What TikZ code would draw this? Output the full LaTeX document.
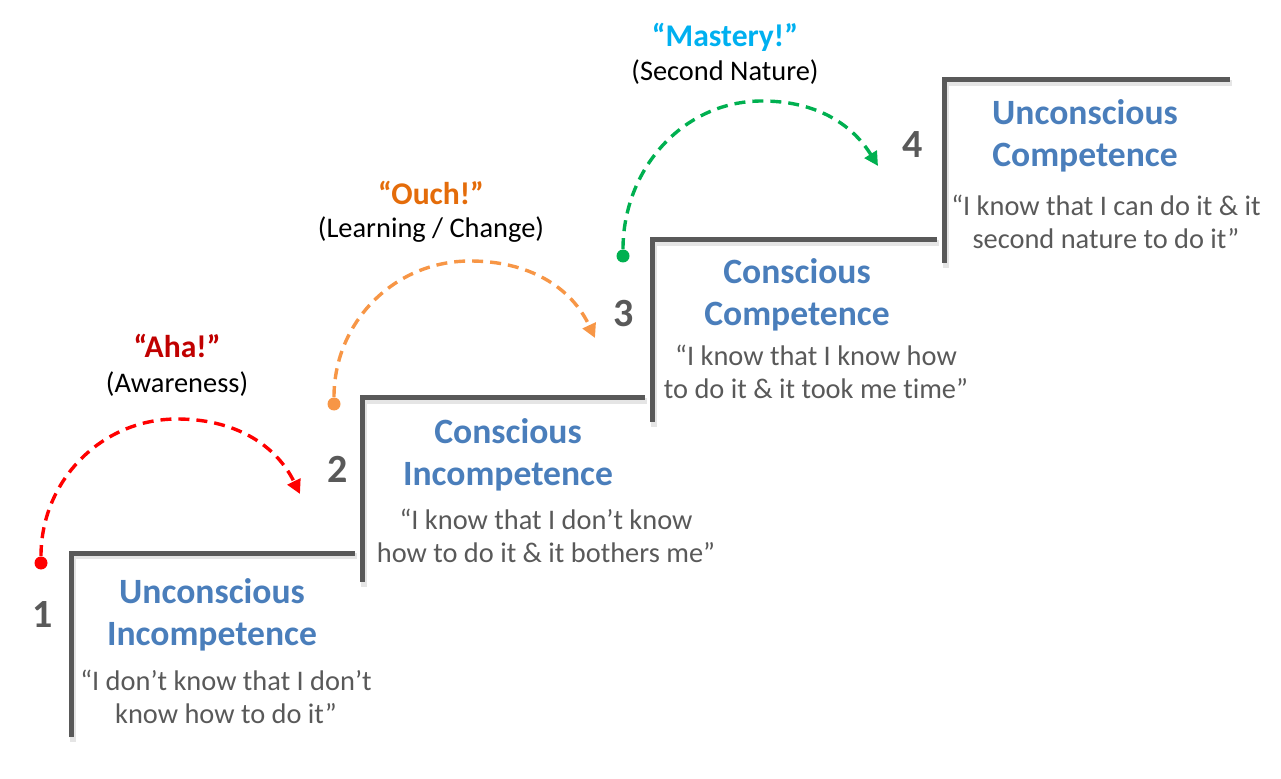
\documentclass[tikz,border=0pt]{standalone}
\usepackage{fontspec}
\setmainfont{Carlito}[Ligatures=NoCommon]
\usepackage{tikz}
\usetikzlibrary{positioning,arrows.meta}
\definecolor{stairgray}{HTML}{595959}
\definecolor{titleblue}{HTML}{4A7EBB}
\definecolor{ahared}{HTML}{C00000}
\definecolor{ouchorange}{HTML}{E46C0A}
\definecolor{masterblue}{HTML}{00B0F0}
\definecolor{leapred}{HTML}{FF0000}
\definecolor{leaporange}{HTML}{F79646}
\definecolor{leapgreen}{HTML}{00B050}

\begin{document}
\begin{tikzpicture}[x=0.5pt, y=0.5pt,
	stair/.style={line width=2.5pt, stairgray, line cap=butt, line join=miter},
	stairshade/.style={line width=3pt, black!10, line join=miter},
	num/.style={font=\bfseries\fontsize{20}{20}\selectfont, text=stairgray, inner sep=0},
	title/.style={font=\bfseries\fontsize{17.8}{21}\selectfont, text=titleblue, align=center, inner sep=0},
	saying/.style={font=\fontsize{14.2}{16.5}\selectfont, text=stairgray, align=center, inner sep=0},
	shout/.style={font=\bfseries\fontsize{15.8}{17}\selectfont, anchor=base, inner sep=0},
	sub/.style={font=\fontsize{14.2}{16}\selectfont, anchor=base, inner sep=0},
	dot/.style={circle, inner sep=0, minimum size=6.5pt},
	leap/.style={line width=1.7pt, dash pattern=on 5.5pt off 3.5pt, -{Triangle[length=7pt,width=7pt]}}]
	\useasboundingbox (0,0) rectangle (1281,778);

	% stairs
	\draw[stairshade] (73,36) -- (73,222) -- (357,222);
	\draw[stairshade] (364,191) -- (364,377) -- (647,377);
	\draw[stairshade] (654,351) -- (654,535) -- (939,535);
	\draw[stairshade] (946,510) -- (946,695) -- (1232,695);
	\draw[stair] (71,41) -- (71,225) -- (355,225);
	\draw[stair] (362,196) -- (362,380) -- (645,380);
	\draw[stair] (652,356) -- (652,538) -- (937,538);
	\draw[stair] (944,515) -- (944,698) -- (1230,698);

	% numbers
	\node[num] (n1) at (43,163) {1};
	\node[num] (n2) at (338,309) {2};
	\node[num] (n3) at (624,464) {3};
	\node[num] (n4) at (913,633) {4};

	% stages
	\node[title] (uc-inc) at (212,163) {Unconscious\\Incompetence};
	\node[saying] (uc-inc-q) at (226,81) {“I don’t know that I don’t\\know how to do it”};
	\node[title] (c-inc) at (508,323) {Conscious\\Incompetence};
	\node[saying] (c-inc-q) at (546,242) {“I know that I don’t know\\how to do it \& it bothers me”};
	\node[title] (c-com) at (797,483) {Conscious\\Competence};
	\node[saying] (c-com-q) at (816,406) {“I know that I know how\\to do it \& it took me time”};
	\node[title] (uc-com) at (1085,642) {Unconscious\\Competence};
	\node[saying] (uc-com-q) at (1106,556) {“I know that I can do it \& it\\second nature to do it”};

	% leaps
	\node[shout, text=ahared] (aha) at (177,421) {“Aha!”};
	\node[sub] (aha-s) at ([yshift=-17.5pt]aha.base) {(Awareness)};
	\node[shout, text=ouchorange] (ouch) at (431,573) {“Ouch!”};
	\node[sub] (ouch-s) at ([yshift=-16.5pt]ouch.base) {(Learning / Change)};
	\node[shout, text=masterblue] (mastery) at (725,731) {“Mastery!”};
	\node[sub] (mastery-s) at ([yshift=-17pt]mastery.base) {(Second Nature)};

	\node[dot, fill=leapred] (d1) at (41,215) {};
	\coordinate (p1) at (177,359);
	\coordinate (t1) at (300,284);
	\node[dot, fill=leaporange] (d2) at (334,374) {};
	\coordinate (p2) at (470,517);
	\coordinate (t2) at (595,440);
	\node[dot, fill=leapgreen] (d3) at (623,522) {};
	\coordinate (p3) at (762,677);
	\coordinate (t3) at (878,612);

	\draw[leap, leapred] (d1) to[out=90, in=180] (p1) to[out=0, in=116] (t1);
	\draw[leap, leaporange] (d2) to[out=90, in=180] (p2) to[out=0, in=115] (t2);
	\draw[leap, leapgreen] (d3) to[out=90, in=180] (p3) to[out=0, in=122] (t3);
\end{tikzpicture}
\end{document}
